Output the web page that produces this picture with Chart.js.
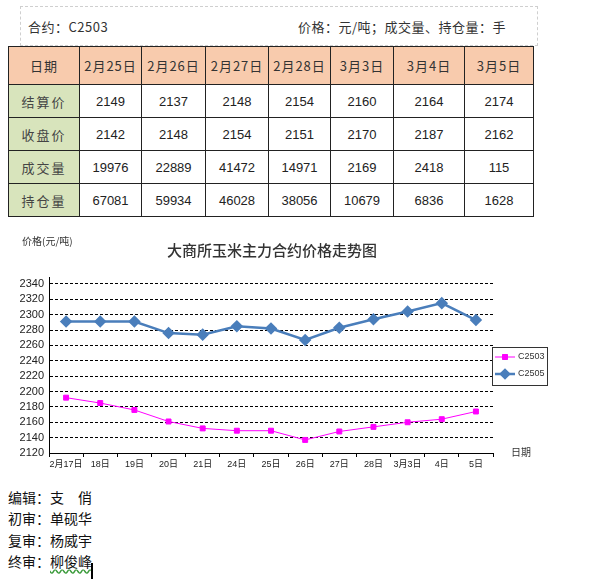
<!DOCTYPE html>
<html lang="zh">
<head>
  <meta charset="UTF-8">
  <title>大商所玉米主力合约价格走势图</title>
  <script src="https://cdn.jsdelivr.net/npm/chart.js@4.4.0/dist/chart.umd.min.js"></script>
  <style>
    body {
      margin: 0;
      background: #fff;
      width: 600px;
      height: 584px;
      overflow: hidden;
      position: relative;
      font-family: "Noto Sans CJK SC", "Liberation Sans", sans-serif;
      color: #222;
    }
    .caption {
      position: absolute;
      left: 20px;
      top: 6px;
      width: 516px;
      height: 38px;
      border: 1px dashed #cfcfcf;
      font-size: 13px;
      color: #333;
    }
    .caption .l { position: absolute; left: 7px; top: 10px; letter-spacing: 0.5px; }
    .caption .r { position: absolute; left: 277px; top: 10px; letter-spacing: 0.5px; }
    table {
      position: absolute;
      left: 8px;
      top: 46px;
      width: 525px;
      border-collapse: collapse;
      table-layout: fixed;
    }
    td {
      border: 1px solid #222;
      text-align: center;
      font-family: "Liberation Sans", "Noto Sans CJK SC", sans-serif;
      font-size: 13px;
      height: 32px;
      padding: 0;
      color: #222;
    }
    tr.head td {
      background: #f8cbad;
      height: 37px;
      letter-spacing: 1px;
      font-family: "Noto Sans CJK SC", sans-serif;
      color: #333;
    }
    td.side {
      background: #d8e4bc;
      font-family: "Noto Sans CJK SC", sans-serif;
      letter-spacing: 2px;
      color: #444;
    }
    #chartBox { position: absolute; left: 0; top: 230px; }
    .credits {
      position: absolute;
      left: 8px;
      top: 487px;
      font-size: 14px;
      line-height: 21.3px;
      color: #111;
    }
    .wavy { text-decoration: underline wavy #3a9a3a; text-underline-offset: 2px; }
    .cursor {
      position: absolute;
      left: 91px;
      top: 563px;
      width: 2px;
      height: 16px;
      background: #000;
    }
  </style>
</head>
<body>
  <div class="caption">
    <span class="l">合约：C2503</span>
    <span class="r">价格：元/吨；成交量、持仓量：手</span>
  </div>

  <table id="quoteTable"></table>

  <div id="chartBox">
    <canvas id="priceChart" width="600" height="246"></canvas>
  </div>

  <div class="credits">
    编辑：支　俏<br>
    初审：单砚华<br>
    复审：杨威宇<br>
    终审：<span class="wavy">柳俊峰</span>
  </div>
  <div class="cursor"></div>

  <script>
    // table data
    const tableDates = ['2月25日', '2月26日', '2月27日', '2月28日', '3月3日', '3月4日', '3月5日'];
    const settlePrice = [2149, 2137, 2148, 2154, 2160, 2164, 2174];
    const closePrice = [2142, 2148, 2154, 2151, 2170, 2187, 2162];
    const volume = [19976, 22889, 41472, 14971, 2169, 2418, 115];
    const openInterest = [67081, 59934, 46028, 38056, 10679, 6836, 1628];

    // chart data
    const categories = ['2月17日', '18日', '19日', '20日', '21日', '24日', '25日', '26日', '27日', '28日', '3月3日', '4日', '5日'];
    const c2503 = [2192, 2185, 2176, 2161, 2152, 2149, 2149, 2137, 2148, 2154, 2160, 2164, 2174];
    const c2505 = [2291, 2291, 2291, 2276, 2274, 2285, 2282, 2267, 2283, 2294, 2304, 2315, 2293];
    const yTicks = [2120, 2140, 2160, 2180, 2200, 2220, 2240, 2260, 2280, 2300, 2320, 2340];

    // build the table
    const colWidths = [71, 62, 64, 63, 62, 63, 71, 69];
    function buildTable() {
      const table = document.getElementById('quoteTable');
      const cg = document.createElement('colgroup');
      colWidths.forEach(w => {
        const c = document.createElement('col');
        c.style.width = w + 'px';
        cg.appendChild(c);
      });
      table.appendChild(cg);
      const rows = [
        ['日期', tableDates, 'head'],
        ['结算价', settlePrice],
        ['收盘价', closePrice],
        ['成交量', volume],
        ['持仓量', openInterest]
      ];
      rows.forEach(r => {
        const tr = document.createElement('tr');
        if (r[2]) tr.className = r[2];
        const first = document.createElement('td');
        first.textContent = r[0];
        if (!r[2]) first.className = 'side';
        tr.appendChild(first);
        r[1].forEach(v => {
          const td = document.createElement('td');
          td.textContent = v;
          tr.appendChild(td);
        });
        table.appendChild(tr);
      });
    }
    buildTable();

    const fontFam = '"Liberation Sans", "Noto Sans CJK SC", sans-serif';
    const blue = '#4a7ebb';
    const pink = '#ff00ff';

    // titles and legend box
    const extras = {
      id: 'extras',
      afterDraw(chart) {
        const ctx = chart.ctx;
        const area = chart.chartArea;
        ctx.save();
        ctx.fillStyle = '#333';
        ctx.textBaseline = 'middle';
        ctx.font = '500 15px "Noto Sans CJK SC", sans-serif';
        ctx.textAlign = 'center';
        ctx.fillText('大商所玉米主力合约价格走势图', 272, 20);

        ctx.font = '10px "Noto Sans CJK SC", sans-serif';
        ctx.textAlign = 'left';
        ctx.fillText('价格(元/吨)', 22, 11);
        ctx.fillText('日期', area.right + 18, area.bottom - 1);

        // legend
        const lx = area.right - 1, ly = 117, lw = 55, lh = 38;
        ctx.strokeStyle = '#333';
        ctx.lineWidth = 1;
        ctx.strokeRect(lx + 0.5, ly + 0.5, lw, lh);
        const items = [
          { label: 'C2503', color: pink, width: 1, style: 'rect' },
          { label: 'C2505', color: blue, width: 2.5, style: 'rectRot' }
        ];
        items.forEach((it, i) => {
          const y = ly + 10 + i * 17;
          ctx.strokeStyle = it.color;
          ctx.lineWidth = it.width;
          ctx.beginPath();
          ctx.moveTo(lx + 3, y);
          ctx.lineTo(lx + 23, y);
          ctx.stroke();
          Chart.helpers.drawPoint(ctx, {
            pointStyle: it.style, radius: it.style === 'rect' ? 3.5 : 4,
            borderWidth: 1, rotation: 0
          }, lx + 13, y);
          ctx.fillStyle = it.color;
          ctx.fill();
          ctx.fillStyle = '#333';
          ctx.font = '9px ' + fontFam;
          ctx.fillText(it.label, lx + 26, y);
        });
        ctx.restore();
      }
    };

    new Chart(document.getElementById('priceChart'), {
      type: 'line',
      data: {
        labels: categories,
        datasets: [
          {
            label: 'C2505',
            data: c2505,
            borderColor: blue,
            backgroundColor: blue,
            borderWidth: 2.5,
            pointStyle: 'rectRot',
            pointRadius: 4.5,
            pointBackgroundColor: blue,
            pointBorderColor: blue,
            tension: 0
          },
          {
            label: 'C2503',
            data: c2503,
            borderColor: pink,
            backgroundColor: pink,
            borderWidth: 1,
            pointStyle: 'rect',
            pointRadius: 3.5,
            pointBackgroundColor: pink,
            pointBorderColor: pink,
            tension: 0
          }
        ]
      },
      options: {
        responsive: false,
        animation: false,
        layout: { padding: { top: 47, right: 107, left: 0, bottom: 0 } },
        plugins: {
          legend: { display: false },
          tooltip: { enabled: false },
          title: { display: false }
        },
        scales: {
          x: {
            offset: true,
            grid: { display: true, drawOnChartArea: false, drawTicks: true, tickLength: 4, color: '#000', offset: true },
            border: { display: true, color: '#000', width: 1 },
            ticks: { font: { size: 9, family: fontFam }, color: '#222', maxRotation: 0, autoSkip: false, padding: 2 },
            afterFit(s) { s.height = 23; }
          },
          y: {
            min: 2120,
            max: 2349,
            ticks: {
              font: { size: 11, family: fontFam }, color: '#222', padding: 5,
              autoSkip: false,
              callback: v => String(v)
            },
            grid: { color: '#000', lineWidth: 1, drawTicks: false },
            border: { display: true, color: '#000', width: 1, dash: [3, 2] },
            afterBuildTicks(s) { s.ticks = yTicks.map(v => ({ value: v })); },
            afterFit(s) { s.width = 49; }
          }
        }
      },
      plugins: [extras]
    });
  </script>
</body>
</html>
